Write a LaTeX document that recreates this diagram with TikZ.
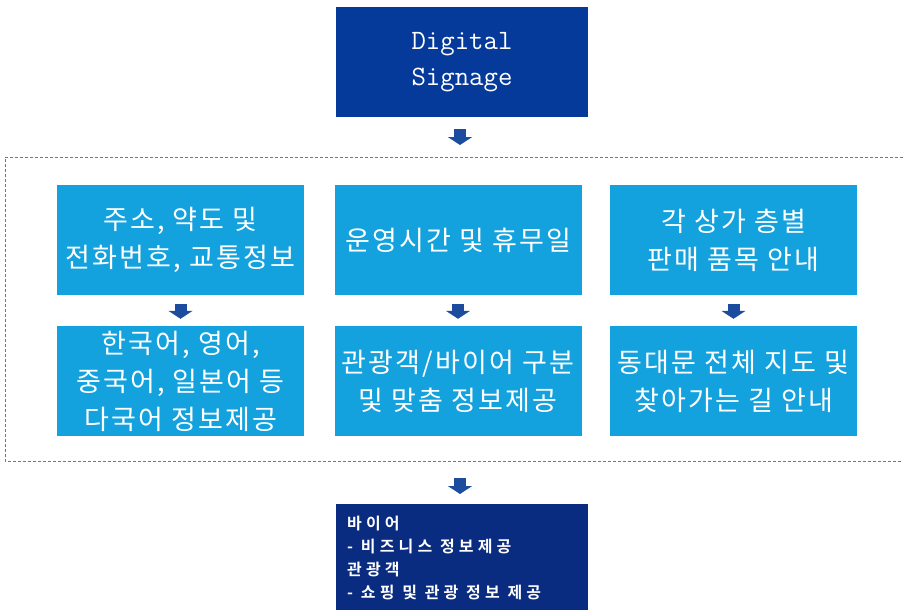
\documentclass[tikz,border=0pt]{standalone}
\usepackage{fontspec}
\newfontfamily\kr{Noto Sans CJK KR}[LetterSpace=8]
\newfontfamily\krb{Noto Sans CJK KR Bold}[LetterSpace=26]
\usetikzlibrary{arrows.meta,calc}
\definecolor{topblue}{HTML}{063A9A}
\definecolor{navy}{HTML}{0A2C80}
\definecolor{sky}{HTML}{14A2DE}
\definecolor{arrowblue}{HTML}{1B4C9E}
\definecolor{dashblue}{HTML}{1E90E0}
\begin{document}
\begin{tikzpicture}[x=1pt,y=-1pt,
  skybox/.style={fill=sky,text=white,minimum width=247pt,minimum height=110pt,inner sep=0pt,align=center,font=\kr\fontsize{27}{38}\selectfont},
  blockarrow/.style={arrowblue,line width=12pt,-{Triangle[width=24pt,length=8pt]}}]
\useasboundingbox (0,0) rectangle (903,610);
\node[fill=topblue,text=white,minimum width=252pt,minimum height=110pt,inner sep=0pt,align=center,font=\ttfamily\fontsize{28}{36}\selectfont] (top) at (462,62) {Digital\\Signage};
\draw[dashblue,dash pattern=on 3pt off 2pt,line width=1pt] (903,157) -- (5,157) -- (5,461) -- (903,461);
\node[skybox] (a1) at (180.5,240) {주소, 약도 및\\전화번호, 교통정보};
\node[skybox] (b1) at (458,240) {운영시간 및 휴무일};
\node[skybox] (c1) at (733.5,240) {각 상가 층별\\판매 품목 안내};
\node[skybox] (a2) at (180.5,381) {한국어, 영어,\\중국어, 일본어 등\\다국어 정보제공};
\node[skybox] (b2) at (458,381) {관광객/바이어 구분\\및 맞춤 정보제공};
\node[skybox] (c2) at (733.5,381) {동대문 전체 지도 및\\찾아가는 길 안내};
\node[fill=navy,text=white,minimum width=252pt,minimum height=108pt,inner sep=0pt] (bot) at (462,558) {};
\node[anchor=north west,text=white,align=left,inner sep=0pt,font=\krb\fontsize{16}{23}\selectfont] (bottxt) at (347,516) {바이어\\- 비즈니스 정보제공\\관광객\\- 쇼핑 및 관광 정보 제공};
\coordinate (t1) at (460,129); \coordinate (t2) at (460,145);
\draw[blockarrow] (t1) -- (t2);
\draw[blockarrow] ($(a1.south)+(0,9)$) -- ($(a2.north)+(0,-7)$);
\draw[blockarrow] ($(b1.south)+(0,9)$) -- ($(b2.north)+(0,-7)$);
\draw[blockarrow] ($(c1.south)+(0,9)$) -- ($(c2.north)+(0,-7)$);
\coordinate (u1) at (460,478); \coordinate (u2) at (460,494);
\draw[blockarrow] (u1) -- (u2);
\end{tikzpicture}
\end{document}
